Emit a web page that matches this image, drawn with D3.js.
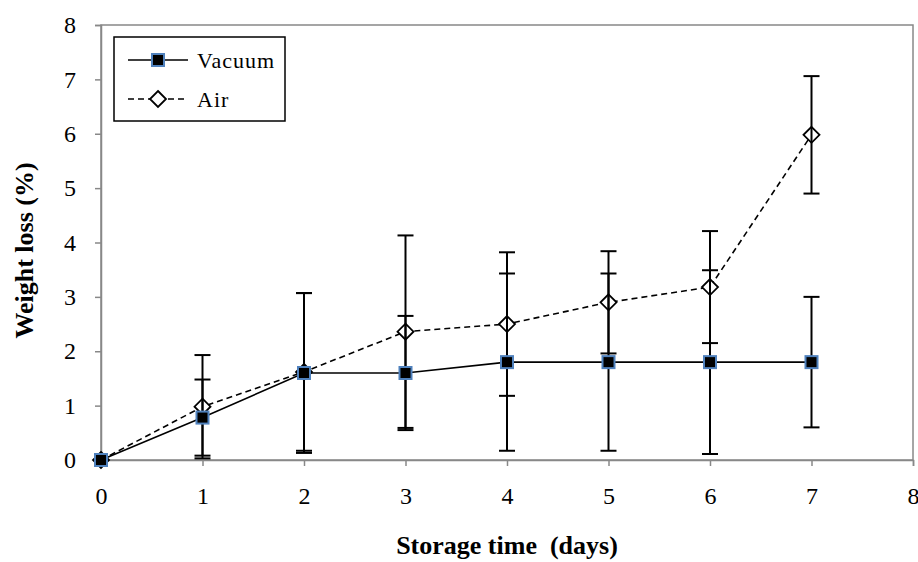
<!DOCTYPE html>
<html>
<head>
<meta charset="utf-8">
<script src="https://cdn.jsdelivr.net/npm/d3@7"></script>
<style>
  body { margin: 0; background: #fff; }
  svg text { font-family: "Liberation Serif", "Times New Roman", "DejaVu Serif", serif; }
</style>
</head>
<body>
<div id="chart"></div>
<script>
const days = [0, 1, 2, 3, 4, 5, 6, 7]
const vacuum = [0, 0.78, 1.6, 1.6, 1.8, 1.8, 1.8, 1.8]
const vacuumErr = [0, 0.7, 1.47, 1.05, 1.63, 1.63, 1.69, 1.2]
const air = [0, 0.98, 1.62, 2.36, 2.5, 2.9, 3.18, 5.98]
const airErr = [0, 0.95, 1.45, 1.77, 1.32, 0.94, 1.03, 1.08]
const xTicks = [0, 1, 2, 3, 4, 5, 6, 7, 8]
const yTicks = [0, 1, 2, 3, 4, 5, 6, 7, 8]

const FONT = "Liberation Serif, Times New Roman, DejaVu Serif, serif"
const W = 918, H = 562
const MARGIN = {TOP: 25, BOTTOM: 102, LEFT: 101, RIGHT: 5}
const WIDTH = W - MARGIN.LEFT - MARGIN.RIGHT
const HEIGHT = H - MARGIN.TOP - MARGIN.BOTTOM

const svg = d3.select("#chart").append("svg")
    .attr("width", W)
    .attr("height", H)
    .attr("font-family", FONT)
  .append("g")
    .attr("transform", `translate(${MARGIN.LEFT}, ${MARGIN.TOP})`)

const x = d3.scaleLinear().domain([0, 8]).range([0, WIDTH])
const y = d3.scaleLinear().domain([0, 8]).range([HEIGHT, 0])

// frame
svg.append("rect")
  .attr("width", WIDTH).attr("height", HEIGHT)
  .attr("fill", "none").attr("stroke", "#888").attr("stroke-width", 1.5)

const xAxis = svg.append("g")
  .attr("transform", `translate(0, ${HEIGHT})`)
  .call(d3.axisBottom(x).tickValues(xTicks).tickSize(6).tickPadding(21))
const yAxis = svg.append("g")
  .call(d3.axisLeft(y).tickValues(yTicks).tickSize(6).tickPadding(19))

;[xAxis, yAxis].forEach(a => {
  a.attr("font-family", FONT)
  a.select(".domain").attr("stroke", "#888").attr("stroke-width", 1.5)
  a.selectAll(".tick line").attr("stroke", "#888").attr("stroke-width", 1.5)
  a.selectAll(".tick text")
    .attr("font-family", FONT)
    .attr("font-size", 24).attr("fill", "#000")
})

svg.append("text")
  .attr("x", WIDTH / 2)
  .attr("y", HEIGHT + 94)
  .attr("text-anchor", "middle")
  .attr("font-size", 26).attr("font-weight", "bold")
  .attr("xml:space", "preserve")
  .text("Storage time  (days)")

svg.append("text")
  .attr("transform", `translate(-68, ${HEIGHT / 2 + 8}) rotate(-90)`)
  .attr("text-anchor", "middle")
  .attr("font-size", 26).attr("font-weight", "bold")
  .text("Weight loss (%)")

const line = (vals) => d3.line().x((d, i) => x(days[i])).y(d => y(d))(vals)

function errorBars(vals, errs) {
  const g = svg.append("g").attr("stroke", "#000").attr("stroke-width", 2)
  days.forEach((d, i) => {
    if (!errs[i]) return
    const cx = x(d), top = y(vals[i] + errs[i]), bot = y(vals[i] - errs[i])
    g.append("line").attr("x1", cx).attr("x2", cx).attr("y1", top).attr("y2", bot)
    g.append("line").attr("x1", cx - 8).attr("x2", cx + 8).attr("y1", top).attr("y2", top)
    g.append("line").attr("x1", cx - 8).attr("x2", cx + 8).attr("y1", bot).attr("y2", bot)
  })
}

function diamond(g, cx, cy) {
  g.append("path")
    .attr("d", `M${cx},${cy - 8}L${cx + 8},${cy}L${cx},${cy + 8}L${cx - 8},${cy}Z`)
    .attr("fill", "#fff").attr("stroke", "#000").attr("stroke-width", 1.8)
}
function square(g, cx, cy) {
  g.append("rect")
    .attr("x", cx - 6).attr("y", cy - 6).attr("width", 12).attr("height", 12)
    .attr("fill", "#000").attr("stroke", "#4f81bd").attr("stroke-width", 2)
}

// Air series
svg.append("path").attr("d", line(air))
  .attr("fill", "none").attr("stroke", "#000").attr("stroke-width", 1.6)
  .attr("stroke-dasharray", "6,4")
const airG = svg.append("g")
days.forEach((d, i) => diamond(airG, x(d), y(air[i])))
errorBars(air, airErr)

// Vacuum series
svg.append("path").attr("d", line(vacuum))
  .attr("fill", "none").attr("stroke", "#000").attr("stroke-width", 1.6)
errorBars(vacuum, vacuumErr)
const vacG = svg.append("g")
days.forEach((d, i) => square(vacG, x(d), y(vacuum[i])))

// legend
const lg = svg.append("g").attr("transform", "translate(13, 12)")
lg.append("rect").attr("width", 171).attr("height", 84)
  .attr("fill", "#fff").attr("stroke", "#000").attr("stroke-width", 1.5)
lg.append("line").attr("x1", 14).attr("x2", 74).attr("y1", 23).attr("y2", 23)
  .attr("stroke", "#000").attr("stroke-width", 1.6)
square(lg, 44, 23)
lg.append("line").attr("x1", 14).attr("x2", 74).attr("y1", 62).attr("y2", 62)
  .attr("stroke", "#000").attr("stroke-width", 1.6).attr("stroke-dasharray", "6,4")
diamond(lg, 44, 62)
lg.append("text").attr("x", 83).attr("y", 31).attr("font-size", 22)
  .attr("letter-spacing", 1).text("Vacuum")
lg.append("text").attr("x", 83).attr("y", 70).attr("font-size", 22)
  .attr("letter-spacing", 1).text("Air")
</script>
</body>
</html>
